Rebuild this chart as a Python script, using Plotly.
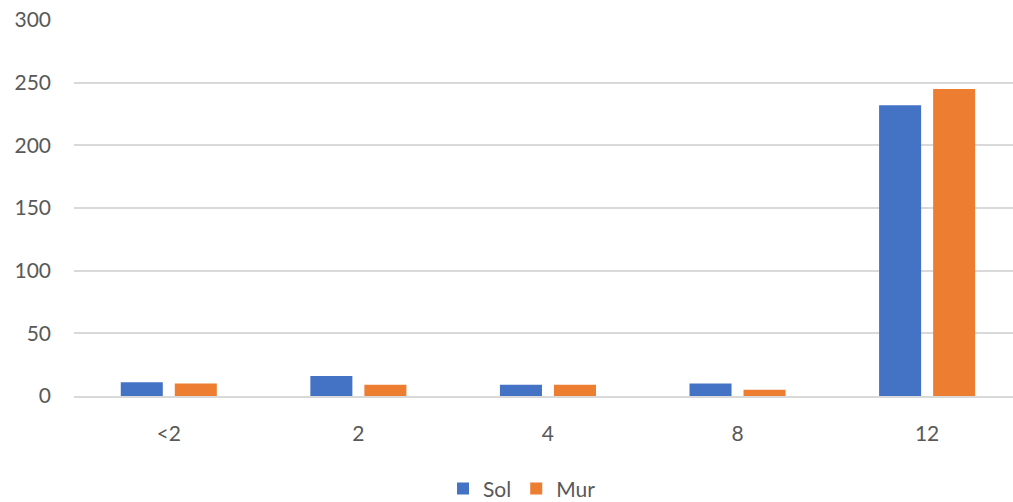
import plotly.graph_objects as go

# Categories and series values
categories = ["<2", "2", "4", "8", "12"]
sol = [11, 16, 9, 10, 232]
mur = [10, 9, 9, 5, 245]
y_ticks = [0, 50, 100, 150, 200, 250, 300]

SOL_COLOR = "#4472C4"
MUR_COLOR = "#ED7D31"
GRID = "#D9D9D9"
TEXT = "#595959"
FONT = "Lato"

fig = go.Figure()
fig.add_trace(go.Bar(name="Sol", x=categories, y=sol, marker_color=SOL_COLOR,
                     marker_line_width=0))
fig.add_trace(go.Bar(name="Mur", x=categories, y=mur, marker_color=MUR_COLOR,
                     marker_line_width=0))

fig.update_layout(
    width=1013, height=502,
    margin=dict(l=74, r=0, t=20, b=106, autoexpand=False),
    paper_bgcolor="white", plot_bgcolor="white",
    barmode="group", bargap=0.43, bargroupgap=0.222,
    font=dict(family=FONT, size=21, color=TEXT),
    showlegend=True,
    legend=dict(orientation="h", x=0.393, xanchor="left",
                yref="container", y=0.026, yanchor="middle",
                font=dict(family=FONT, size=21, color=TEXT),
                itemwidth=30, tracegroupgap=0),
)
fig.update_xaxes(
    type="category", range=[-0.5, 4.453],
    showgrid=False, showline=True, linecolor=GRID, linewidth=2,
    ticks="", ticklabelstandoff=18,
    tickfont=dict(family=FONT, size=21, color=TEXT),
)
fig.update_yaxes(
    range=[0, 300], tickvals=y_ticks,
    showgrid=True, gridcolor=GRID, gridwidth=2,
    zeroline=False, showline=False,
    ticks="", ticklabelstandoff=22,
    tickfont=dict(family=FONT, size=21, color=TEXT),
)

fig.write_html("out.html")
